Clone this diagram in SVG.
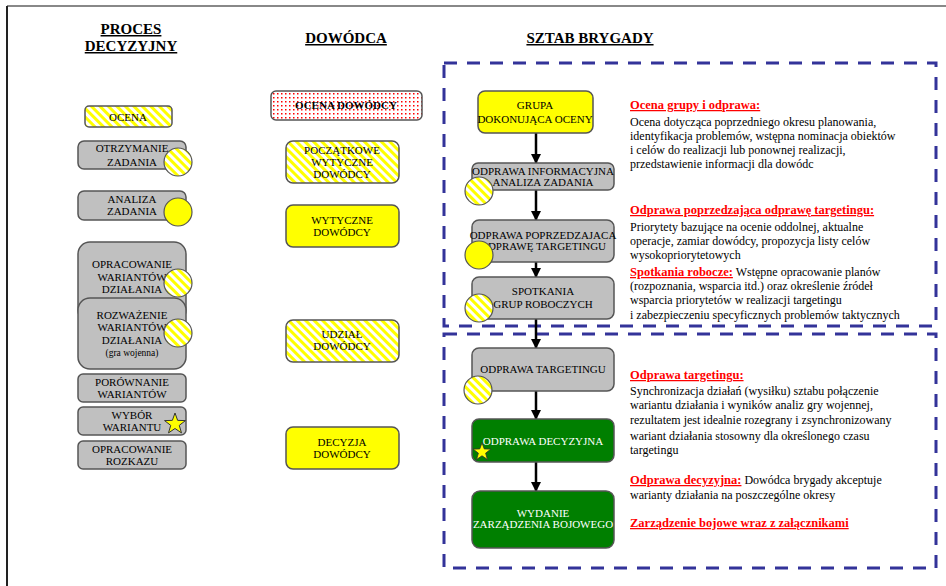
<svg xmlns="http://www.w3.org/2000/svg" width="946" height="586" viewBox="0 0 946 586">
<defs>
<pattern id="stripes" patternUnits="userSpaceOnUse" width="6" height="6" patternTransform="rotate(-45)">
<rect width="6" height="6" fill="#ffffff"/>
<rect width="3" height="6" fill="#ffff00"/>
</pattern>
<pattern id="dots" patternUnits="userSpaceOnUse" width="4" height="4">
<rect width="4" height="4" fill="#ffffff"/>
<rect x="1" y="1" width="1.5" height="1.5" fill="#ff0000"/>
</pattern>
<polygon id="star" points="0,-11 2.65,-3.64 10.46,-3.4 4.28,1.39 6.47,8.9 0,4.5 -6.47,8.9 -4.28,1.39 -10.46,-3.4 -2.65,-3.64" fill="#ffff00" stroke="#333" stroke-width="1"/>
<marker id="arr" viewBox="0 0 10 10" refX="9" refY="5" markerWidth="4" markerHeight="4" orient="auto" markerUnits="strokeWidth">
<path d="M0,0 L10,5 L0,10 z" fill="#000"/>
</marker>
</defs>
<style>
.box{stroke:#555;stroke-width:1.5}
.gray{fill:#c0c0c0}
.yel{fill:#ffff00}
.str{fill:url(#stripes)}
.grn{fill:#007f00}
.circ{stroke:#555;stroke-width:1.2}
.lbl{font-family:"Liberation Serif","Times New Roman",serif;font-size:11px;text-anchor:middle;fill:#000}
.wl{fill:#fff}
.hd{font-family:"Liberation Serif","Times New Roman",serif;font-size:15px;font-weight:bold;text-anchor:middle;text-decoration:underline;fill:#000}
.bt{font-family:"Liberation Serif","Times New Roman",serif;font-size:12px;fill:#000}
.rd{fill:#ff0000;font-weight:bold;text-decoration:underline;font-size:12.5px}
.dash{fill:none;stroke:#333399;stroke-width:3;stroke-dasharray:13 10}
.con{stroke:#000;stroke-width:2.5;fill:none;marker-end:url(#arr)}
</style>
<rect width="946" height="586" fill="#ffffff"/>
<line x1="7" y1="6" x2="946" y2="6" stroke="#888" stroke-width="2"/>
<line x1="7" y1="6" x2="7" y2="586" stroke="#222" stroke-width="2"/>

<text class="hd" x="131" y="34">PROCES</text>
<text class="hd" x="131" y="51">DECYZYJNY</text>
<text class="hd" x="346" y="43">DOWÓDCA</text>
<text class="hd" x="590" y="43">SZTAB BRYGADY</text>

<rect class="dash" x="444" y="63" width="492" height="263"/>
<rect class="dash" x="444" y="334" width="492" height="234"/>

<!-- left column -->
<g id="ocena"><rect class="box str" x="85" y="106" width="87" height="21" rx="4"/><text class="lbl" x="128" y="121">OCENA</text></g>
<g id="otrzymanie"><rect class="box gray" x="78" y="141" width="108" height="28" rx="6"/><text class="lbl" x="132" y="152">OTRZYMANIE</text><text class="lbl" x="132" y="166">ZADANIA</text><circle class="circ str" cx="178" cy="162" r="14"/></g>
<g id="analiza"><rect class="box gray" x="78" y="191" width="108" height="29" rx="6"/><text class="lbl" x="132" y="203">ANALIZA</text><text class="lbl" x="132" y="215">ZADANIA</text><circle class="circ yel" cx="178" cy="212" r="14"/></g>
<g id="opracowanie"><rect class="box gray" x="78" y="242" width="108" height="80" rx="12"/><text class="lbl" x="132" y="268">OPRACOWANIE</text><text class="lbl" x="132" y="281">WARIANTÓW</text><text class="lbl" x="132" y="293">DZIAŁANIA</text><circle class="circ str" cx="178" cy="283" r="14"/></g>
<g id="rozwazenie"><rect class="box gray" x="78" y="298" width="108" height="71" rx="12"/><text class="lbl" x="132" y="319">ROZWAŻENIE</text><text class="lbl" x="132" y="331">WARIANTÓW</text><text class="lbl" x="132" y="344">DZIAŁANIA</text><text class="lbl" x="132" y="356" style="font-size:9.5px">(gra wojenna)</text><circle class="circ str" cx="178" cy="333" r="14"/></g>
<g id="porownanie"><rect class="box gray" x="78" y="374" width="108" height="28" rx="5"/><text class="lbl" x="132" y="386">PORÓWNANIE</text><text class="lbl" x="132" y="398">WARIANTÓW</text></g>
<g id="wybor"><rect class="box gray" x="78" y="407" width="108" height="28" rx="5"/><text class="lbl" x="132" y="419">WYBÓR</text><text class="lbl" x="132" y="431">WARIANTU</text><use href="#star" transform="translate(175,424)"/></g>
<g id="rozkaz"><rect class="box gray" x="78" y="441" width="108" height="28" rx="5"/><text class="lbl" x="132" y="453">OPRACOWANIE</text><text class="lbl" x="132" y="465">ROZKAZU</text></g>

<!-- middle column -->
<g id="ocena-dowodcy"><rect class="box" fill="url(#dots)" x="271" y="91" width="151" height="29" rx="5"/><text class="lbl" x="346" y="109" style="font-weight:bold">OCENA DOWÓDCY</text></g>
<g id="poczatkowe"><rect class="box str" x="286" y="141" width="113" height="42" rx="7"/><text class="lbl" x="342" y="154">POCZĄTKOWE</text><text class="lbl" x="342" y="166">WYTYCZNE</text><text class="lbl" x="342" y="178">DOWÓDCY</text></g>
<g id="wytyczne"><rect class="box yel" x="286" y="205" width="113" height="42" rx="7"/><text class="lbl" x="342" y="224">WYTYCZNE</text><text class="lbl" x="342" y="236">DOWÓDCY</text></g>
<g id="udzial"><rect class="box str" x="286" y="320" width="113" height="42" rx="7"/><text class="lbl" x="342" y="338">UDZIAŁ</text><text class="lbl" x="342" y="350">DOWÓDCY</text></g>
<g id="decyzja"><rect class="box yel" x="286" y="427" width="113" height="42" rx="7"/><text class="lbl" x="342" y="446">DECYZJA</text><text class="lbl" x="342" y="458">DOWÓDCY</text></g>

<!-- connectors -->
<g id="connectors">
<line class="con" x1="536" y1="133" x2="536" y2="163"/>
<line class="con" x1="536" y1="190" x2="536" y2="220"/>
<line class="con" x1="536" y1="262" x2="536" y2="277"/>
<line class="con" x1="536" y1="319" x2="536" y2="348"/>
<line class="con" x1="536" y1="391" x2="536" y2="419"/>
<line class="con" x1="536" y1="462" x2="536" y2="491"/>
</g>

<!-- right column -->
<g id="grupa"><rect class="box yel" x="478" y="91" width="115" height="42" rx="7"/><text class="lbl" x="535" y="109">GRUPA</text><text class="lbl" x="535" y="123">DOKONUJĄCA OCENY</text></g>
<g id="odprawa-inf"><rect class="box gray" x="472" y="163" width="142" height="27" rx="6"/><text class="lbl" x="543" y="175">ODPRAWA INFORMACYJNA</text><text class="lbl" x="543" y="186">ANALIZA ZADANIA</text><circle class="circ str" cx="479" cy="191" r="14"/></g>
<g id="odprawa-pop"><rect class="box gray" x="472" y="220" width="142" height="42" rx="7"/><text class="lbl" x="543" y="239">ODPRAWA POPRZEDZAJACA</text><text class="lbl" x="543" y="250">ODPRAWĘ TARGETINGU</text><circle class="circ yel" cx="479" cy="255" r="14"/></g>
<g id="spotkania"><rect class="box gray" x="472" y="277" width="142" height="42" rx="7"/><text class="lbl" x="543" y="295">SPOTKANIA</text><text class="lbl" x="543" y="308">GRUP ROBOCZYCH</text><circle class="circ str" cx="479" cy="308" r="14"/></g>
<g id="odprawa-tar"><rect class="box gray" x="472" y="348" width="142" height="43" rx="7"/><text class="lbl" x="543" y="373">ODPRAWA TARGETINGU</text><circle class="circ str" cx="478" cy="390" r="14"/></g>
<g id="odprawa-dec"><rect class="box grn" x="472" y="419" width="142" height="43" rx="7"/><text class="lbl wl" x="543" y="445">ODPRAWA DECYZYJNA</text><use href="#star" transform="translate(482,452) scale(0.85)"/></g>
<g id="wydanie"><rect class="box grn" x="472" y="491" width="142" height="57" rx="8"/><text class="lbl wl" x="543" y="517">WYDANIE</text><text class="lbl wl" x="543" y="528">ZARZĄDZENIA BOJOWEGO</text></g>

<!-- descriptions -->
<text class="bt" x="630" y="109"><tspan class="rd">Ocena grupy i odprawa:</tspan></text>
<text class="bt" x="630" y="126">Ocena dotycząca poprzedniego okresu planowania,</text>
<text class="bt" x="630" y="140">identyfikacja problemów, wstępna nominacja obiektów</text>
<text class="bt" x="630" y="154">i celów do realizacji lub ponownej realizacji,</text>
<text class="bt" x="630" y="168">przedstawienie informacji dla dowódc</text>

<text class="bt" x="630" y="214"><tspan class="rd">Odprawa  poprzedzająca odprawę targetingu:</tspan></text>
<text class="bt" x="630" y="231">Priorytety bazujące na ocenie oddolnej, aktualne</text>
<text class="bt" x="630" y="245">operacje, zamiar dowódcy, propozycja listy celów</text>
<text class="bt" x="630" y="259">wysokopriorytetowych</text>
<text class="bt" x="630" y="276"><tspan class="rd">Spotkania robocze:</tspan> Wstępne opracowanie planów</text>
<text class="bt" x="630" y="290">(rozpoznania, wsparcia itd.) oraz określenie źródeł</text>
<text class="bt" x="630" y="304">wsparcia priorytetów w realizacji targetingu</text>
<text class="bt" x="630" y="319">i zabezpieczeniu specyficznych problemów taktycznych</text>

<text class="bt" x="630" y="379"><tspan class="rd">Odprawa targetingu:</tspan></text>
<text class="bt" x="630" y="395">Synchronizacja działań (wysiłku) sztabu połączenie</text>
<text class="bt" x="630" y="409">wariantu działania i wyników analiz gry wojennej,</text>
<text class="bt" x="630" y="424">rezultatem jest idealnie rozegrany i zsynchronizowany</text>
<text class="bt" x="630" y="440">wariant działania stosowny dla określonego czasu</text>
<text class="bt" x="630" y="454">targetingu</text>
<text class="bt" x="630" y="484"><tspan class="rd">Odprawa decyzyjna:</tspan> Dowódca brygady akceptuje</text>
<text class="bt" x="630" y="499">warianty działania na poszczególne okresy</text>
<text class="bt" x="630" y="527"><tspan class="rd">Zarządzenie bojowe wraz z załącznikami</tspan></text>
</svg>
